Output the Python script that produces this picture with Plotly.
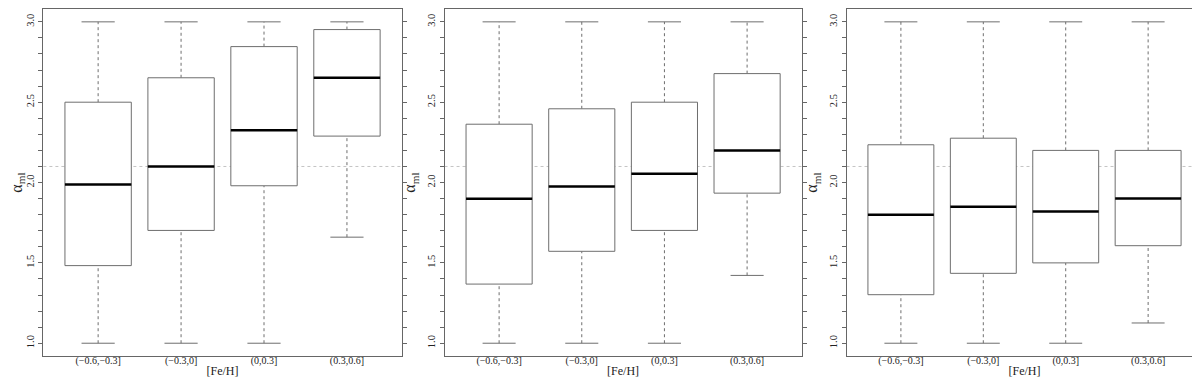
import plotly.graph_objects as go

categories = ["(\u22120.6,\u22120.3]", "(\u22120.3,0]", "(0,0.3]", "(0.3,0.6]"]

# panel 1
p1_lower = [1.0, 1.0, 1.0, 1.66]
p1_q1 = [1.483, 1.702, 1.98, 2.289]
p1_median = [1.988, 2.10, 2.326, 2.652]
p1_q3 = [2.50, 2.652, 2.846, 2.952]
p1_upper = [3.0, 3.0, 3.0, 3.0]

# panel 2
p2_lower = [1.0, 1.0, 1.0, 1.422]
p2_q1 = [1.368, 1.572, 1.702, 1.934]
p2_median = [1.899, 1.976, 2.055, 2.20]
p2_q3 = [2.363, 2.459, 2.50, 2.678]
p2_upper = [3.0, 3.0, 3.0, 3.0]

# panel 3
p3_lower = [1.0, 1.0, 1.0, 1.126]
p3_q1 = [1.302, 1.435, 1.50, 1.607]
p3_median = [1.80, 1.85, 1.82, 1.90]
p3_q3 = [2.235, 2.276, 2.20, 2.20]
p3_upper = [3.0, 3.0, 3.0, 3.0]

reference_value = 2.1
y_ticks = [1.0, 1.5, 2.0, 2.5, 3.0]

panels = [
    (p1_lower, p1_q1, p1_median, p1_q3, p1_upper),
    (p2_lower, p2_q1, p2_median, p2_q3, p2_upper),
    (p3_lower, p3_q1, p3_median, p3_q3, p3_upper),
]

W, H = 1200, 379
px_domains = [(32.5, 392.0), (435.0, 793.3), (838.3, 1195.5)]
y_dom = (1 - 348.0 / H, 1.0)

BOX_HALF = 0.4
CAP_HALF = 0.2
FRAME = "#666666"
BOXC = "#6e6e6e"
FONT = "Liberation Serif, Times New Roman, serif"

fig = go.Figure()

for pi, (lo, q1, med, q3, hi) in enumerate(panels):
    sfx = "" if pi == 0 else str(pi + 1)
    xa, ya = "x" + sfx, "y" + sfx
    for i in range(len(categories)):
        c = i + 1
        fig.add_trace(go.Scatter(
            x=[c, c, None, c, c], y=[lo[i], q1[i], None, q3[i], hi[i]],
            mode="lines", line=dict(color=BOXC, width=1, dash="dot"),
            xaxis=xa, yaxis=ya, showlegend=False, hoverinfo="skip"))
        fig.add_trace(go.Scatter(
            x=[c - CAP_HALF, c + CAP_HALF, None, c - CAP_HALF, c + CAP_HALF],
            y=[lo[i], lo[i], None, hi[i], hi[i]],
            mode="lines", line=dict(color=BOXC, width=1),
            xaxis=xa, yaxis=ya, showlegend=False, hoverinfo="skip"))
        fig.add_trace(go.Scatter(
            x=[c - BOX_HALF, c + BOX_HALF, c + BOX_HALF, c - BOX_HALF, c - BOX_HALF],
            y=[q1[i], q1[i], q3[i], q3[i], q1[i]],
            mode="lines", fill="toself", fillcolor="white",
            line=dict(color=BOXC, width=1),
            xaxis=xa, yaxis=ya, showlegend=False, hoverinfo="skip"))
        fig.add_trace(go.Scatter(
            x=[c - BOX_HALF, c + BOX_HALF], y=[med[i], med[i]],
            mode="lines", line=dict(color="black", width=2.5),
            xaxis=xa, yaxis=ya, showlegend=False, hoverinfo="skip"))

    fig.add_shape(type="line", xref=xa + " domain", yref=ya,
                  x0=0, x1=1, y0=reference_value, y1=reference_value,
                  line=dict(color="#c4c4c4", width=1, dash="dot"), layer="below")

    d0, d1 = px_domains[pi]
    fig.layout["xaxis" + sfx] = dict(
        domain=[d0 / W, d1 / W], anchor=ya, range=[0.34, 4.66],
        tickmode="array", tickvals=[1, 2, 3, 4], ticktext=categories,
        ticks="", showgrid=False, zeroline=False, ticklabelstandoff=-5,
        showline=True, linecolor=FRAME, linewidth=1, mirror=True,
        tickfont=dict(family=FONT, size=10, color="#222"),
        title=dict(text="[Fe/H]", font=dict(family=FONT, size=12, color="#222"), standoff=0),
    )
    fig.layout["yaxis" + sfx] = dict(
        domain=list(y_dom), anchor=xa, range=[0.92, 3.08],
        tickmode="array", tickvals=y_ticks, ticktext=[f"{v:.1f}" for v in y_ticks],
        tickangle=-90, ticks="outside", ticklen=4, tickcolor=FRAME,
        minor=dict(dtick=0.1, ticks="outside", ticklen=4, tickcolor=FRAME, showgrid=False),
        showgrid=False, zeroline=False,
        showline=True, linecolor=FRAME, linewidth=1, mirror="allticks",
        tickfont=dict(family=FONT, size=10.5, color="#222"),
        title=dict(text="\u03b1<sub>ml</sub>", font=dict(family=FONT, size=16, color="#222"), standoff=6),
    )

fig.update_layout(
    width=W, height=H, margin=dict(l=0, r=0, t=0, b=0),
    plot_bgcolor="white", paper_bgcolor="white",
)

fig.write_html("out.html")
